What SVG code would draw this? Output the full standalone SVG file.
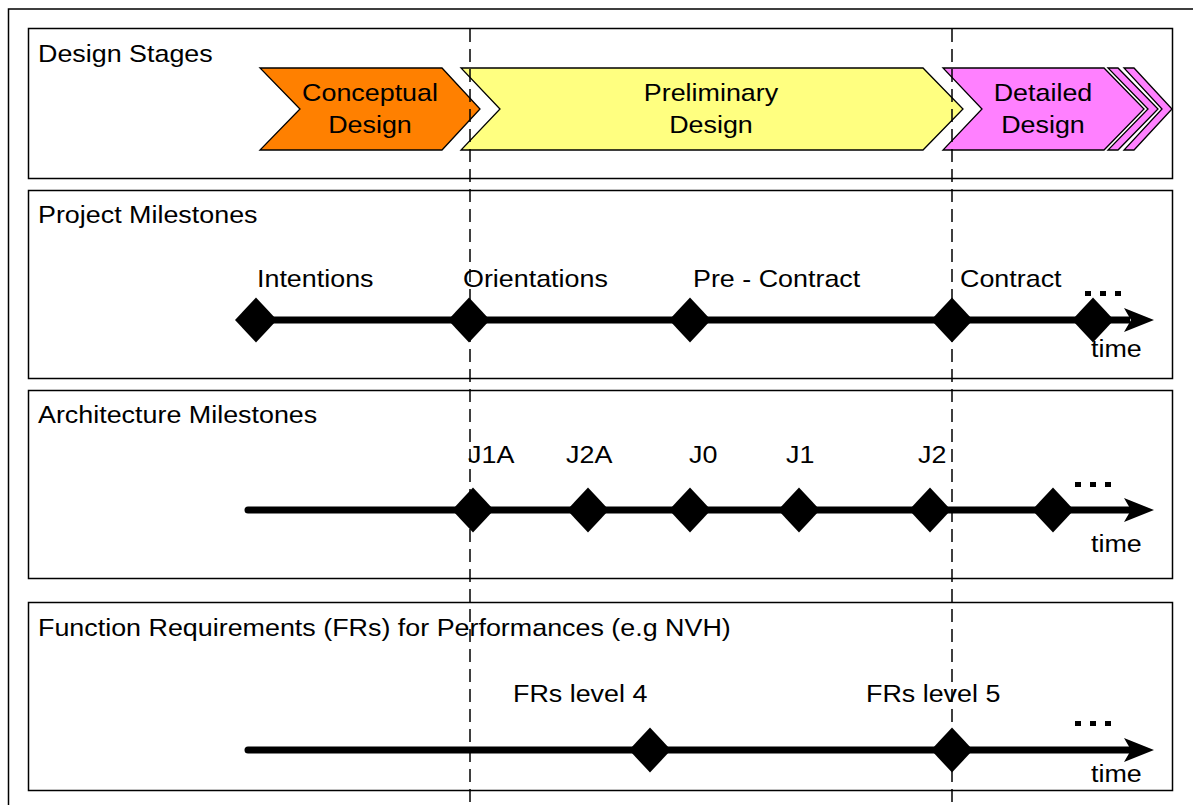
<svg xmlns="http://www.w3.org/2000/svg" width="1193" height="805" viewBox="0 0 1193 805">
<style>
.t{font-family:"Liberation Sans",Arial,sans-serif;font-size:24px;fill:#000}
.m{text-anchor:middle}
.panel{fill:#fff;stroke:#000;stroke-width:1.5}
.chev{stroke:#000;stroke-width:1.3;stroke-linejoin:miter}
.line{stroke:#000;stroke-width:7;fill:none}
.dash{stroke:#000;stroke-width:1.5;stroke-dasharray:13 7;fill:none}
.dia{fill:#000}
</style>
<defs>
<polygon id="dm" points="0,-22.5 21,0 0,22.5 -21,0"/>
<polygon id="ah" points="-30,-12 0,0 -30,12 -23,0"/>
<g id="dots"><rect x="0" y="0" width="6" height="5"/><rect x="15" y="0" width="6" height="5"/><rect x="30" y="0" width="6" height="5"/></g>
</defs>
<rect width="1193" height="805" fill="#fff"/>
<rect x="8.5" y="9" width="1200" height="820" fill="none" stroke="#000" stroke-width="1.5"/>

<g id="panel-design-stages">
<rect class="panel" x="28.5" y="28.5" width="1144" height="150"/>
<text class="t" transform="translate(38,62) scale(1.12,1)">Design Stages</text>
</g>
<g id="node-conceptual">
<polygon class="chev" fill="#FF8000" points="260,68 442,68 480,109 442,150 260,150 300,109"/>
<text class="t m" transform="translate(370,101) scale(1.12,1)">Conceptual</text>
<text class="t m" transform="translate(370,133) scale(1.12,1)">Design</text>
</g>
<g id="node-preliminary">
<polygon class="chev" fill="#FFFF80" points="461,68 923,68 963,109 923,150 461,150 500,109"/>
<text class="t m" transform="translate(711,101) scale(1.12,1)">Preliminary</text>
<text class="t m" transform="translate(711,133) scale(1.12,1)">Design</text>
</g>
<g id="node-detailed">
<polygon class="chev" fill="#FF80FF" points="1108,68 1118,68 1158,109 1118,150 1108,150 1148,109"/>
<polygon class="chev" fill="#FF80FF" points="1124,68 1134,68 1172,109 1134,150 1124,150 1162,109"/>
<polygon class="chev" fill="#FF80FF" points="943,68 1104,68 1144,109 1104,150 943,150 982,109"/>
<text class="t m" transform="translate(1043,101) scale(1.12,1)">Detailed</text>
<text class="t m" transform="translate(1043,133) scale(1.12,1)">Design</text>
</g>

<g id="panel-project-milestones">
<rect class="panel" x="28.5" y="190.5" width="1144" height="188"/>
<text class="t" transform="translate(38,223) scale(1.12,1)">Project Milestones</text>
<text class="t" transform="translate(257,287) scale(1.12,1)">Intentions</text>
<text class="t" transform="translate(463,287) scale(1.12,1)">Orientations</text>
<text class="t" transform="translate(693,287) scale(1.12,1)">Pre - Contract</text>
<text class="t" transform="translate(960,287) scale(1.12,1)">Contract</text>
<text class="t" transform="translate(1091,357) scale(1.12,1)">time</text>
<use href="#dots" x="1085" y="291"/>
</g>

<g id="panel-architecture-milestones">
<rect class="panel" x="28.5" y="390.5" width="1144" height="188"/>
<text class="t" transform="translate(38,423) scale(1.12,1)">Architecture Milestones</text>
<text class="t" transform="translate(468,463) scale(1.12,1)">J1A</text>
<text class="t" transform="translate(566,463) scale(1.12,1)">J2A</text>
<text class="t" transform="translate(689,463) scale(1.12,1)">J0</text>
<text class="t" transform="translate(786,463) scale(1.12,1)">J1</text>
<text class="t" transform="translate(918,463) scale(1.12,1)">J2</text>
<text class="t" transform="translate(1091,552) scale(1.12,1)">time</text>
<use href="#dots" x="1075" y="482"/>
</g>

<g id="panel-function-requirements">
<rect class="panel" x="28.5" y="602.5" width="1144" height="188"/>
<text class="t" transform="translate(38,636) scale(1.12,1)">Function Requirements (FRs) for Performances (e.g NVH)</text>
<text class="t" transform="translate(513,702) scale(1.12,1)">FRs level 4</text>
<text class="t" transform="translate(866,702) scale(1.12,1)">FRs level 5</text>
<text class="t" transform="translate(1091,782) scale(1.12,1)">time</text>
<use href="#dots" x="1075" y="721"/>
</g>

<g id="connectors">
<line class="line" x1="256" y1="320" x2="1130" y2="320"/>
<use href="#ah" x="1154" y="320"/>
<line class="line" x1="248" y1="510" x2="1130" y2="510" stroke-linecap="round"/>
<use href="#ah" x="1154" y="510"/>
<line class="line" x1="248" y1="750" x2="1130" y2="750" stroke-linecap="round"/>
<use href="#ah" x="1154" y="750"/>
<line class="dash" x1="470" y1="29" x2="470" y2="805"/>
<line class="dash" x1="952" y1="29" x2="952" y2="805"/>
</g>

<g id="milestones">
<use href="#dm" x="256" y="320"/>
<use href="#dm" x="469" y="320"/>
<use href="#dm" x="690" y="320"/>
<use href="#dm" x="952" y="320"/>
<use href="#dm" x="1093" y="320"/>
<use href="#dm" x="473" y="510"/>
<use href="#dm" x="588" y="510"/>
<use href="#dm" x="690" y="510"/>
<use href="#dm" x="799" y="510"/>
<use href="#dm" x="930" y="510"/>
<use href="#dm" x="1053" y="510"/>
<use href="#dm" x="650" y="750"/>
<use href="#dm" x="952" y="750"/>
</g>
</svg>
